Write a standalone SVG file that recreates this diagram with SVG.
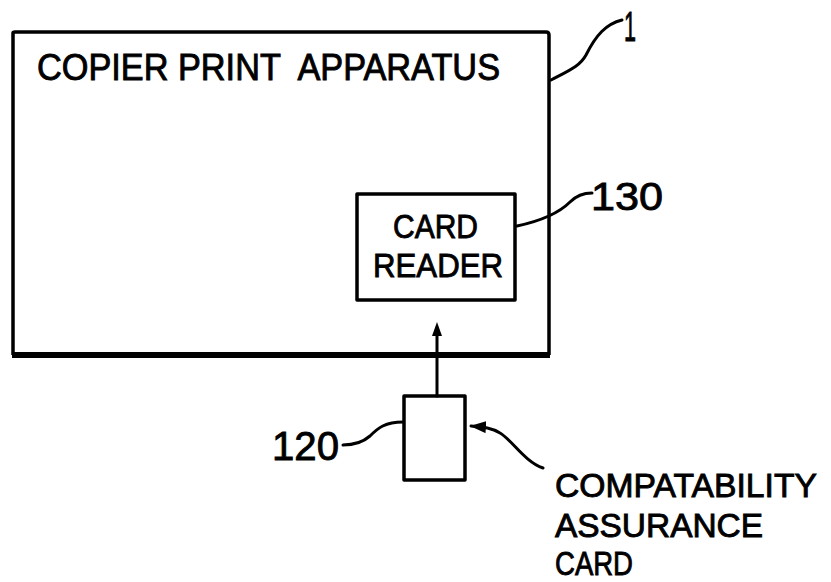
<svg xmlns="http://www.w3.org/2000/svg" width="831" height="582" viewBox="0 0 831 582">
<defs>
<style>
.box{fill:none;stroke:#000;stroke-width:3.5;stroke-linejoin:round}
.ln{fill:none;stroke:#000;stroke-width:3;stroke-linecap:round}
.t{font-family:"Liberation Sans",Arial,sans-serif;fill:#000;stroke:#000;stroke-width:0.9}
</style>
<marker id="ah" markerWidth="16" markerHeight="12" refX="15" refY="6" orient="auto" markerUnits="userSpaceOnUse">
<path d="M0,0 L16,6 L0,12 Z" fill="#000"/>
</marker>
</defs>
<rect width="831" height="582" fill="#fff"/>
<g id="copier">
<path class="box" d="M13,355 L13,33 Q13,32 15,32 L546,32 Q549,32 549,35 L549,355"/>
<line x1="12" y1="355" x2="550" y2="355" stroke="#000" stroke-width="6"/>
<text class="t" x="37" y="80" font-size="37" textLength="463" lengthAdjust="spacingAndGlyphs" xml:space="preserve">COPIER PRINT  APPARATUS</text>
</g>
<g id="card-reader">
<rect class="box" x="357" y="194" width="158" height="106" stroke-width="3"/>
<text class="t" x="393" y="238" font-size="34" textLength="85" lengthAdjust="spacingAndGlyphs">CARD</text>
<text class="t" x="373" y="277" font-size="34" textLength="130" lengthAdjust="spacingAndGlyphs">READER</text>
</g>
<g id="card">
<rect class="box" x="404" y="396" width="61" height="84" stroke-width="3"/>
</g>
<g id="labels">
<text class="t" x="624" y="41" font-size="42" textLength="12" lengthAdjust="spacingAndGlyphs">1</text>
<text class="t" x="591" y="210" font-size="39" textLength="72" lengthAdjust="spacingAndGlyphs">130</text>
<text class="t" x="272" y="460" font-size="41" textLength="67" lengthAdjust="spacingAndGlyphs">120</text>
<text class="t" x="555" y="497" font-size="34" textLength="262" lengthAdjust="spacingAndGlyphs">COMPATABILITY</text>
<text class="t" x="555" y="537" font-size="34" textLength="208" lengthAdjust="spacingAndGlyphs">ASSURANCE</text>
<text class="t" x="555" y="575" font-size="34" textLength="78" lengthAdjust="spacingAndGlyphs">CARD</text>
</g>
<g id="connectors">
<path class="ln" d="M551,80 C570,70 580,66 586,55 C596,35 606,24 622,20"/>
<path class="ln" d="M517,226 C545,220 560,212 570,202 C576,196 584,193 592,193"/>
<line class="ln" x1="437" y1="396" x2="437" y2="332"/>
<path d="M437,322 L432,336 L442,336 Z" fill="#000"/>
<path class="ln" d="M403,422 C385,422 378,428 370,436 C362,443 352,445 343,445"/>
<path class="ln" d="M543,468 C525,462 512,440 500,433 C492,428 484,427 471,426" marker-end="url(#ah)"/>
</g>
</svg>
